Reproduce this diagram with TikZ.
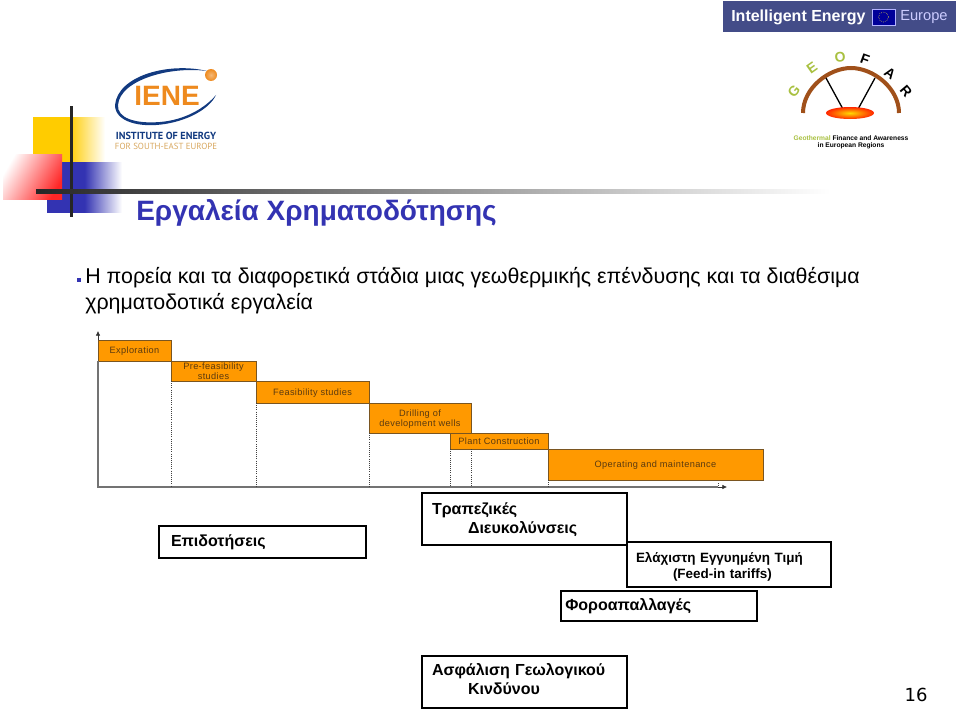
\documentclass[tikz,border=0pt]{standalone}
\usepackage{fontspec}
\setmainfont{Liberation Sans}
\newfontfamily\logofont{PT Sans}
\newfontfamily\pagefont{DejaVu Sans}
\newfontfamily\stagefont[LetterSpace=4]{Liberation Sans}
\usepackage{xcolor}
\usetikzlibrary{calc,arrows.meta}

\definecolor{titleblue}{HTML}{3333B2}
\definecolor{squareyellow}{HTML}{FFCC00}
\definecolor{barorange}{HTML}{FF9900}
\definecolor{barline}{HTML}{7A5520}
\definecolor{bartext}{HTML}{5A3A10}
\definecolor{bannerblue}{HTML}{434C88}
\definecolor{ieneblue}{HTML}{123A80}
\definecolor{ieneorange}{HTML}{EE8A1E}
\definecolor{ienetan}{HTML}{D8A860}
\definecolor{domebrown}{HTML}{A0501A}
\definecolor{geogreen}{HTML}{A8C040}

\newcommand{\toolstrut}{\rule{0pt}{10.4pt}}
\newcommand{\tooldepth}{\rule[-4.6pt]{0pt}{4.6pt}}

\tikzset{
    stagebar/.style={draw=barline, fill=barorange, line width=0.6pt, anchor=north west, inner sep=0pt, outer sep=0pt,
        align=center, text=bartext, text depth=0pt, font=\stagefont\fontsize{6.9}{7.6}\selectfont},
    toolbox/.style={draw=black, fill=white, line width=2.1pt, anchor=north west, inner sep=0pt, outer sep=0pt,
        align=left, font=\bfseries\fontsize{12}{14.2}\selectfont},
    bodytext/.style={anchor=west, inner sep=0pt, font=\fontsize{16.05}{18}\selectfont},
    geoletter/.style={inner sep=0pt, font=\bfseries\fontsize{10.5}{10.5}\selectfont},
    stageline/.style={densely dotted, black!75, line width=0.6pt},
}

\begin{document}
\begin{tikzpicture}[x=0.75pt, y=-0.75pt]
    \useasboundingbox (0,0) rectangle (960,710);

    % Corner squares
    \shade[left color=squareyellow, right color=white, middle color=squareyellow] (33,117) rectangle (105,162);
    \shade[left color=titleblue, right color=white, middle color=titleblue] (47,162) rectangle (122,212);
    \shade[left color=white, right color=red!85, shading angle=60] (3,154) rectangle (62,199);
    \fill[black!85] (69.5,106) rectangle (73,217);
    \shade[left color=black!85, right color=white] (36,189.5) rectangle (830,193);

    % Title and body
    \node[anchor=west, inner sep=0pt, text=titleblue, font=\bfseries\fontsize{21}{24}\selectfont] (title) at (136,213) {Εργαλεία Χρηματοδότησης};
    \fill[titleblue] (77,278) rectangle (80.5,281.5);
    \node[bodytext] (lineone) at (85,278) {Η πορεία και τα διαφορετικά στάδια μιας γεωθερμικής επένδυσης και τα διαθέσιμα};
    \node[bodytext] (linetwo) at (85,304) {χρηματοδοτικά εργαλεία};

    % IENE logo
    \fill[ieneblue] (207,71) .. controls (170,62) and (118,75) .. (115,105) .. controls (115,122) and (140,128) .. (165,124)
        .. controls (190,120) and (210,108) .. (216,95) .. controls (205,108) and (185,120) .. (160,122)
        .. controls (135,124) and (117,118) .. (118,105) .. controls (120,80) and (170,66) .. (207,71) -- cycle;
    \shade[inner color=ieneorange!60!white, outer color=ieneorange] (211,75) circle (6);
    \node[inner sep=0pt, text=ieneorange, font=\bfseries\fontsize{21}{21}\selectfont] (iene) at (167,96) {IENE};
    \node[inner sep=0pt, text=ieneblue, font=\logofont\bfseries\fontsize{7.7}{8}\selectfont] (ienea) at (166,136) {INSTITUTE OF ENERGY};
    \node[inner sep=0pt, text=ienetan, font=\logofont\fontsize{6.65}{8}\selectfont] (ieneb) at (166,146) {FOR SOUTH-EAST EUROPE};

    % Banner
    \fill[bannerblue] (723,1) rectangle (956,32);
    \node[anchor=west, inner sep=0pt, text=white, font=\bfseries\fontsize{12}{14}\selectfont] (banner) at (731,17) {Intelligent Energy};
    \draw[fill=blue!60!black, draw=white!70!blue] (872,9) rectangle (895,25);
    \draw[yellow!80!white, densely dotted] (883.5,17) circle (5);
    \node[anchor=west, inner sep=0pt, text=white!80!blue, font=\fontsize{11}{14}\selectfont] (europe) at (900,17) {Europe};

    % GEOFAR logo
    \draw[domebrown, line width=3pt] (803,113) .. controls (803,88) and (829,68) .. (851,68) .. controls (873,68) and (899,88) .. (899,113);
    \draw[black, line width=1pt] (826,78) -- (844,111);
    \draw[black, line width=1pt] (875,78) -- (857,111);
    \shade[inner color=yellow!70!orange, outer color=red!70!orange] (850,113) ellipse [x radius=24, y radius=6];
    \node[geoletter, text=geogreen, rotate=50] (geog) at (794,91) {G};
    \node[geoletter, text=geogreen, rotate=35] (geoe) at (812,68) {E};
    \node[geoletter, text=geogreen, rotate=5] (geoo) at (840,57) {O};
    \node[geoletter, rotate=-20] (geof) at (865,59) {F};
    \node[geoletter, rotate=-35] (geoa) at (890,73) {A};
    \node[geoletter, rotate=-50] (geor) at (906,91) {R};
    \node[inner sep=0pt, font=\bfseries\fontsize{5}{6}\selectfont] (geotexta) at (851,138) {\textcolor{geogreen}{Geothermal} Finance and Awareness};
    \node[inner sep=0pt, font=\bfseries\fontsize{5}{6}\selectfont] (geotextb) at (851,146) {in European Regions};

    % Stages
    \node[stagebar, minimum width=54.75pt, minimum height=15.75pt] (explore) at (98,340) {Exploration};
    \node[stagebar, minimum width=63.75pt, minimum height=15pt] (prefeas) at (171,361) {Pre-feasibility\\studies};
    \node[stagebar, minimum width=84.75pt, minimum height=16.5pt] (feas) at (256,381) {Feasibility studies};
    \node[stagebar, minimum width=76.5pt, minimum height=22.5pt] (drill) at (369,403) {Drilling of\\development wells};
    \node[stagebar, minimum width=73.5pt, minimum height=12pt] (plant) at (450,433) {Plant Construction};
    \node[stagebar, minimum width=161.25pt, minimum height=23.25pt] (operate) at (548,449) {Operating and maintenance};

    % Axes
    \coordinate (origin) at (98,487);
    \coordinate (ytop) at (98,331);
    \coordinate (xend) at (727,487);
    \coordinate (lastmark) at (718,483);
    \draw[black!55, line width=0.8pt] (explore.south west) -- (origin) -- (lastmark |- origin);
    \draw[-{Latex[length=3.5pt,width=3.5pt]}, black!80, line width=0.5pt] (explore.north west) -- (ytop);
    \draw[-{Latex[length=3.5pt,width=3.5pt]}, black!80, line width=0.5pt] (lastmark |- origin) -- (xend);
    \draw[stageline] (prefeas.south west) -- (prefeas.south west |- origin);
    \draw[stageline] (feas.south west) -- (feas.south west |- origin);
    \draw[stageline] (drill.south west) -- (drill.south west |- origin);
    \draw[stageline] (plant.south west) -- (plant.south west |- origin);
    \draw[stageline] (drill.south east |- plant.south) -- (drill.south east |- origin);
    \draw[stageline] (operate.south west) -- (operate.south west |- origin);
    \draw[stageline] (lastmark) -- (lastmark |- origin);

    % Funding tools
    \node[toolbox, minimum height=24pt, text width=155.25pt] (subsidy) at (159,526) {\hspace*{9pt}Επιδοτήσεις};
    \node[toolbox, minimum height=39pt, text width=153.75pt] (bank) at (422,493) {\toolstrut\hspace*{7.5pt}Τραπεζικές\\\hspace*{34.5pt}Διευκολύνσεις};
    \node[toolbox, minimum height=33.75pt, text width=153pt, font=\bfseries\fontsize{10.1}{12}\selectfont] (tariff) at (627,542) {\rule{0pt}{11pt}\hspace*{6.75pt}Ελάχιστη Εγγυημένη Τιμή\\\hspace*{34.5pt}(Feed-in tariffs)};
    \node[toolbox, minimum height=22.5pt, text width=147pt] (tax) at (561,591) {\hspace*{3.2pt}Φοροαπαλλαγές};
    \node[toolbox, minimum height=39pt, text width=153.75pt] (risk) at (422,656) {\hspace*{7.5pt}Ασφάλιση Γεωλογικού\\\tooldepth\hspace*{34.5pt}Κινδύνου};

    % Page number
    \node[inner sep=0pt, font=\pagefont\fontsize{13.5}{15}\selectfont] (pagenum) at (916,695) {16};
\end{tikzpicture}
\end{document}
